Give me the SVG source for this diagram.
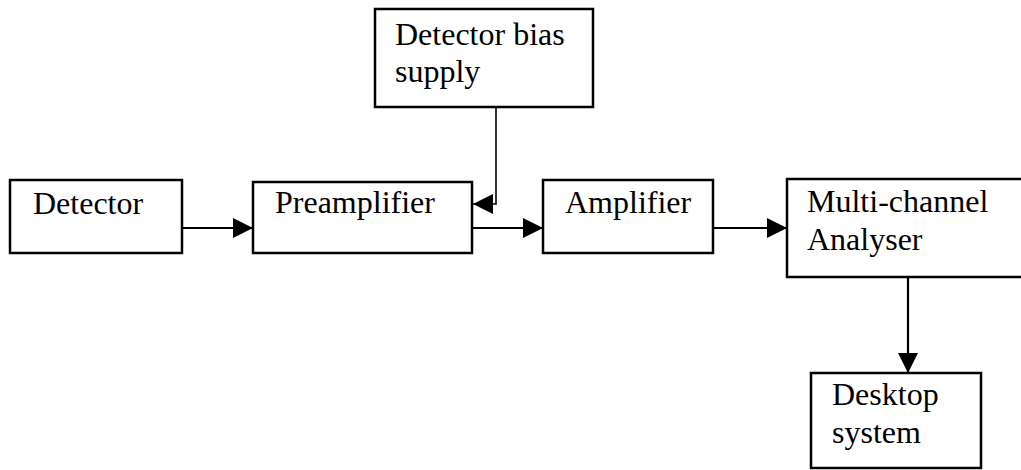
<svg xmlns="http://www.w3.org/2000/svg" width="1021" height="470" viewBox="0 0 1021 470">
  <style>
    .box { fill: #ffffff; stroke: #000000; stroke-width: 2.5; }
    .lbl { font-family: "Liberation Serif", "Times New Roman", serif; font-size: 32px; fill: #000000; }
    .wire { fill: none; stroke: #000000; stroke-width: 2.2; }
    .thin { stroke-width: 1.6; }
  </style>
  <defs>
    <marker id="arrow" markerUnits="userSpaceOnUse" markerWidth="22" markerHeight="22" refX="20" refY="10" orient="auto">
      <path d="M0,0 L20,10 L0,20 Z" fill="#000000"/>
    </marker>
  </defs>
  <rect width="1021" height="470" fill="#ffffff"/>

  <g id="connectors">
    <path class="wire" d="M182,228 L253,228" marker-end="url(#arrow)"/>
    <path class="wire thin" d="M496,107 L496,204 L473,204" marker-end="url(#arrow)"/>
    <path class="wire" d="M472,228 L543,228" marker-end="url(#arrow)"/>
    <path class="wire" d="M713,228 L787,228" marker-end="url(#arrow)"/>
    <path class="wire" d="M908,277 L908,373" marker-end="url(#arrow)"/>
  </g>

  <g id="detector">
    <rect class="box" x="10" y="180" width="172" height="73"/>
    <text class="lbl" x="33" y="214">Detector</text>
  </g>
  <g id="preamplifier">
    <rect class="box" x="253" y="182" width="219" height="71"/>
    <text class="lbl" x="275" y="213">Preamplifier</text>
  </g>
  <g id="bias-supply">
    <rect class="box" x="375" y="9" width="218" height="98"/>
    <text class="lbl" x="395" y="45">Detector bias</text>
    <text class="lbl" x="395" y="82">supply</text>
  </g>
  <g id="amplifier">
    <rect class="box" x="543" y="180" width="170" height="73"/>
    <text class="lbl" x="565" y="213">Amplifier</text>
  </g>
  <g id="mca">
    <rect class="box" x="787" y="179" width="240" height="98"/>
    <text class="lbl" x="807" y="212">Multi-channel</text>
    <text class="lbl" x="807" y="250">Analyser</text>
  </g>
  <g id="desktop">
    <rect class="box" x="811" y="373" width="170" height="95"/>
    <text class="lbl" x="832" y="405">Desktop</text>
    <text class="lbl" x="832" y="443">system</text>
  </g>
</svg>
